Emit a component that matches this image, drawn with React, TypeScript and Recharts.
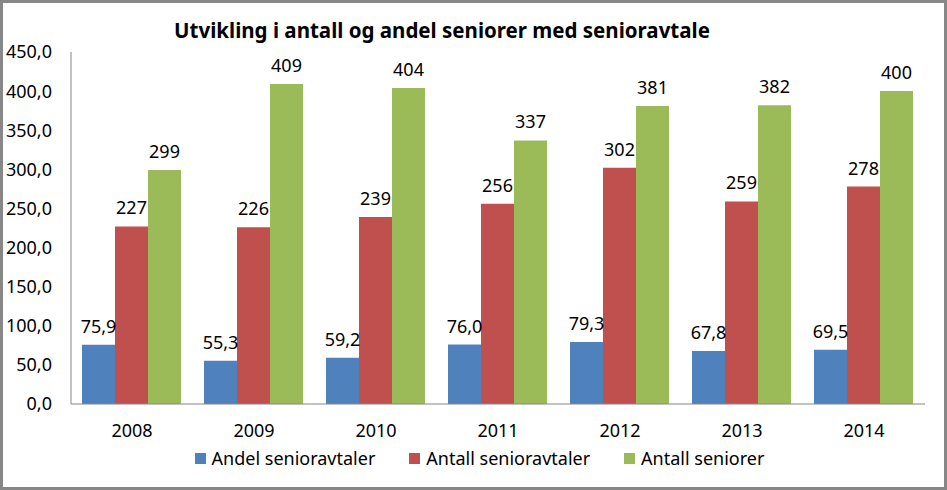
import { BarChart, Bar, XAxis, YAxis, Legend, LabelList } from 'recharts';

const years = ['2008', '2009', '2010', '2011', '2012', '2013', '2014'];
const andelSenioravtaler = [75.9, 55.3, 59.2, 76.0, 79.3, 67.8, 69.5];
const antallSenioravtaler = [227, 226, 239, 256, 302, 259, 278];
const antallSeniorer = [299, 409, 404, 337, 381, 382, 400];
const yTicks = [0, 50, 100, 150, 200, 250, 300, 350, 400, 450];

const data = years.map((year, i) => ({
  year,
  andel: andelSenioravtaler[i],
  avtaler: antallSenioravtaler[i],
  seniorer: antallSeniorer[i],
}));

const FONT = '"Noto Sans", sans-serif';
const comma1 = (v: any) => Number(v).toFixed(1).replace('.', ',');
const whole = (v: any) => String(Math.round(Number(v)));

// legend drawn by hand so the spacing matches the Excel look
function renderLegend(props: any) {
  const items = props.payload || [];
  return (
    <div style={{ display: 'flex', justifyContent: 'center', gap: 34, paddingLeft: 34 }}>
      {items.map((it: any) => (
        <div key={it.value} style={{ display: 'flex', alignItems: 'center', fontSize: 18, color: '#000', fontFamily: FONT }}>
          <span style={{ width: 11, height: 11, background: it.color, display: 'inline-block', marginRight: 6 }} />
          {it.value}
        </div>
      ))}
    </div>
  );
}

export default function App() {
  const labelStyle = { fontSize: 18, fill: '#000', fontFamily: FONT };
  return (
    <div style={{ position: 'absolute', left: 0, top: 0, width: 947, height: 490, background: '#fff' }}>
      <BarChart
        width={947}
        height={490}
        data={data}
        margin={{ top: 52, right: 22, bottom: 30, left: 0 }}
        barCategoryGap={11}
        barGap={0}
        style={{ fontFamily: FONT }}
      >
        <text x={442} y={38} textAnchor="middle" fontSize={20.5} fontWeight="bold" fontFamily={FONT} fill="#000">
          Utvikling i antall og andel seniorer med senioravtale
        </text>
        <XAxis
          dataKey="year"
          tickLine={false}
          axisLine={{ stroke: '#868686' }}
          tick={{ fontSize: 18, fill: '#000' }}
          tickMargin={14}
        />
        <YAxis
          width={71}
          domain={[0, 450]}
          ticks={yTicks}
          tickFormatter={comma1}
          tickLine={false}
          axisLine={{ stroke: '#868686' }}
          tick={{ fontSize: 18, fill: '#000' }}
          tickMargin={13}
        />
        <Legend
          verticalAlign="bottom"
          align="center"
          content={renderLegend}
          wrapperStyle={{ top: 446, height: 26 }}
        />
        <Bar dataKey="andel" name="Andel senioravtaler" fill="#4F81BD" isAnimationActive={false}>
          <LabelList dataKey="andel" position="top" offset={12} formatter={comma1} style={labelStyle} />
        </Bar>
        <Bar dataKey="avtaler" name="Antall senioravtaler" fill="#C0504D" isAnimationActive={false}>
          <LabelList dataKey="avtaler" position="top" offset={12} formatter={whole} style={labelStyle} />
        </Bar>
        <Bar dataKey="seniorer" name="Antall seniorer" fill="#9BBB59" isAnimationActive={false}>
          <LabelList dataKey="seniorer" position="top" offset={12} formatter={whole} style={labelStyle} />
        </Bar>
      </BarChart>
      <div
        style={{
          position: 'absolute',
          left: 0,
          top: 0,
          width: 947,
          height: 490,
          boxSizing: 'border-box',
          border: '3px solid #878787',
          pointerEvents: 'none',
        }}
      />
    </div>
  );
}
